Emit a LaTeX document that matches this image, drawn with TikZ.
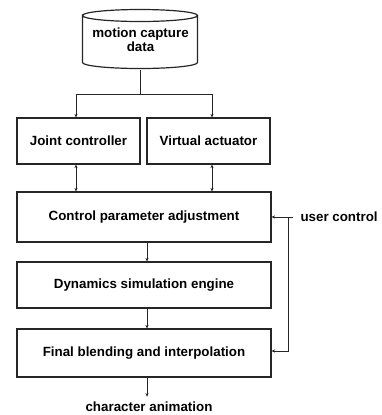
\documentclass[tikz,border=0pt]{standalone}
\usepackage{fontspec}
\setmainfont{Liberation Sans}
\usetikzlibrary{arrows.meta,calc}
\begin{document}
\begin{tikzpicture}[x=1bp,y=-1bp,
  line width=1bp, draw=black!85,
  font=\fontsize{13.4}{15}\selectfont\bfseries,
  box/.style={draw=black!85, line width=1.2bp, rectangle, inner sep=0pt, align=center},
  arr/.style={-{Stealth[length=3.5bp,width=3.2bp]}},
  biarr/.style={{Stealth[length=3.5bp,width=3.2bp]}-{Stealth[length=3.5bp,width=3.2bp]}}
]
\useasboundingbox[fill=white] (0,0) rectangle (382,415);
% cylinder
\node (mcd) [align=center, inner sep=0pt, minimum width=115bp, minimum height=59bp] at (140.5,39.5) {motion capture\\[-1bp]data};
\draw[line width=1.2bp, draw=black!85] (mcd.north west) ++(0,6)
  coordinate (cl) arc[start angle=180, end angle=-180, x radius=57.5, y radius=-6]
  -- ++(0,47) arc[start angle=180, end angle=360, x radius=57.5, y radius=-6] -- ++(0,-47);
% boxes
\node (jc) [box, minimum width=123bp, minimum height=46bp] at (78.5,141) {Joint controller};
\node (va) [box, minimum width=123bp, minimum height=46bp] at (208.5,141) {Virtual actuator};
\node (cpa) [box, minimum width=254bp, minimum height=50bp] at (144,217) {Control parameter adjustment};
\node (dse) [box, minimum width=254bp, minimum height=46bp] at (144,285) {Dynamics simulation engine};
\node (fbi) [box, minimum width=254bp, minimum height=48bp] at (144,353) {Final blending and interpolation};
\node (out) [inner sep=0pt] at (149,407) {character animation};
\node (uc) [inner sep=0pt, anchor=west] at (300,217) {user control};
% connectors
\coordinate (split) at (140.5,94);
\draw (mcd.south) -- (split);
\draw[arr] (split) -| ([xshift=-2.5bp]jc.north);
\draw[arr] (split) -| ([xshift=3.5bp]va.north);
\draw[biarr] ([xshift=-2.5bp]jc.south) -- ([xshift=-2.5bp]jc.south |- cpa.north);
\draw[biarr] ([xshift=3.5bp]va.south) -- ([xshift=3.5bp]va.south |- cpa.north);
\draw[arr] ([xshift=3bp]cpa.south) -- ([xshift=3bp]dse.north);
\draw[arr] ([xshift=3bp]dse.south) -- ([xshift=3bp]fbi.north);
\draw[arr] ([xshift=3bp]fbi.south) -- ([xshift=3bp,yshift=-19bp]fbi.south);
\coordinate (ucs) at (293,217);
\coordinate (ucv) at (288,217);
\draw[arr] (ucs) -- (cpa.east);
\draw[arr] (ucv) |- ([yshift=2bp]fbi.east);
\end{tikzpicture}
\end{document}
